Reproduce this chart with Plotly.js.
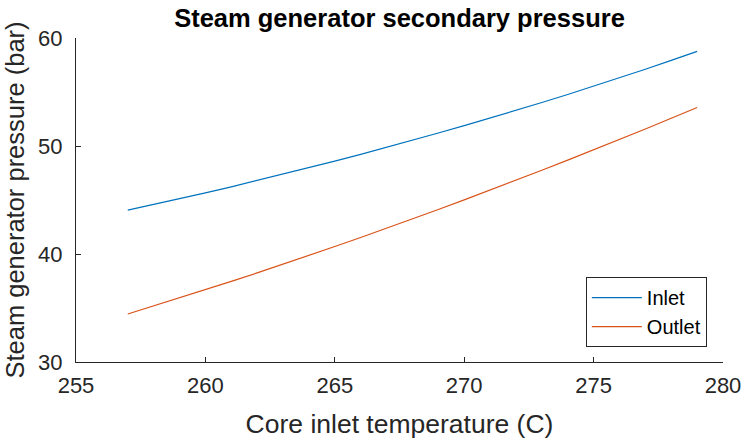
<!DOCTYPE html>
<html>
<head>
<meta charset="utf-8">
<script src="https://cdn.plot.ly/plotly-3.0.1.min.js"></script>
<style>
  html, body { margin: 0; padding: 0; background: #fff; }
  #chart { width: 745px; height: 441px; }
</style>
</head>
<body>
<div id="chart"></div>
<script>
// Core inlet temperature (C)
const coreInletTemp = [257, 258, 259, 260, 261, 262, 263, 264, 265, 266, 267, 268,
                       269, 270, 271, 272, 273, 274, 275, 276, 277, 278, 279];

// Steam generator secondary-side pressure (bar)
const inletPressure = [44.07, 44.59, 45.12, 45.66, 46.22, 46.80, 47.38, 47.98, 48.60, 49.23, 49.87, 50.53,
                       51.20, 51.88, 52.58, 53.30, 54.03, 54.77, 55.54, 56.32, 57.11, 57.93, 58.76];
const outletPressure = [34.44, 35.18, 35.93, 36.69, 37.46, 38.25, 39.05, 39.86, 40.69, 41.53, 42.38, 43.24,
                        44.12, 45.01, 45.91, 46.82, 47.75, 48.69, 49.64, 50.60, 51.58, 52.57, 53.57];

const xTicks = [255, 260, 265, 270, 275, 280];
const yTicks = [30, 40, 50, 60];

const axisColor = '#262626';
const fontFamily = 'Liberation Sans, Arial, sans-serif';

const traces = [
  { x: coreInletTemp, y: inletPressure, name: 'Inlet', mode: 'lines',
    line: { color: '#0072BD', width: 1.2 } },
  { x: coreInletTemp, y: outletPressure, name: 'Outlet', mode: 'lines',
    line: { color: '#D95319', width: 1.2 } }
];

const layout = {
  width: 745, height: 441,
  margin: { l: 76, r: 22, t: 38, b: 79 },
  paper_bgcolor: '#fff', plot_bgcolor: '#fff',
  font: { family: fontFamily, color: axisColor },
  title: {
    text: '<b>Steam generator secondary pressure</b>',
    font: { size: 25.5, color: '#000', family: fontFamily },
    xref: 'paper', x: 0.5, xanchor: 'center',
    yref: 'container', y: 0.958, yanchor: 'middle'
  },
  xaxis: {
    range: [255, 280], tickvals: xTicks, ticktext: xTicks.map(String),
    showgrid: false, zeroline: false,
    showline: true, linecolor: axisColor, linewidth: 1,
    ticks: 'inside', ticklen: 5, tickcolor: axisColor,
    ticklabelstandoff: 4,
    tickfont: { size: 22, color: axisColor },
    title: { text: 'Core inlet temperature (C)', font: { size: 26.5, color: axisColor }, standoff: 17 }
  },
  yaxis: {
    range: [30, 60], tickvals: yTicks, ticktext: yTicks.map(String),
    showgrid: false, zeroline: false,
    showline: true, linecolor: axisColor, linewidth: 1,
    ticks: 'inside', ticklen: 5, tickcolor: axisColor,
    ticklabelstandoff: 8,
    tickfont: { size: 22, color: axisColor },
    title: { text: 'Steam generator pressure (bar)', font: { size: 25.5, color: axisColor }, standoff: 6 }
  },
  showlegend: true,
  legend: {
    x: 0.975, xanchor: 'right', y: 0.046, yanchor: 'bottom',
    bgcolor: '#fff', bordercolor: axisColor, borderwidth: 1,
    font: { size: 20, color: '#000' },
    itemwidth: 50,
    tracegroupgap: 0
  }
};

Plotly.newPlot('chart', traces, layout, { displayModeBar: false, staticPlot: true });
</script>
</body>
</html>
